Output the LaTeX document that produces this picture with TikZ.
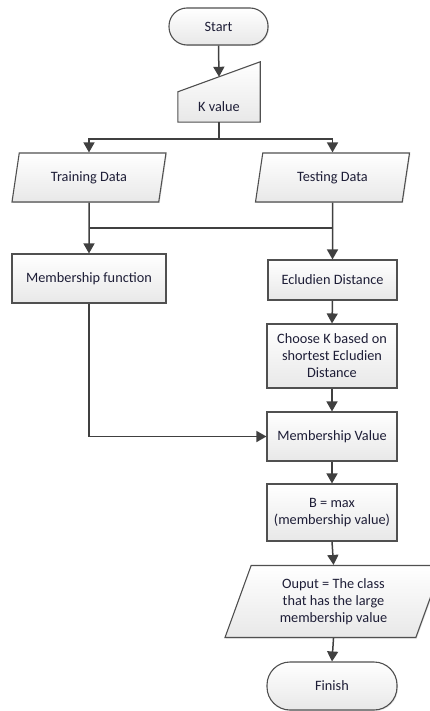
\documentclass[tikz,border=0pt]{standalone}
\usepackage{fontspec}
\setmainfont{Carlito}
\usetikzlibrary{shapes.geometric,arrows.meta,calc,backgrounds,shadows}

\definecolor{boxline}{RGB}{80,80,80}
\definecolor{boxfill}{RGB}{232,232,232}
\definecolor{flowline}{RGB}{64,64,64}
\definecolor{txt}{RGB}{30,30,55}
\newcommand\boxfont{\fontsize{14.3}{17}\selectfont}

\begin{document}
\begin{tikzpicture}[x=1pt,y=-1pt,
  shapestyle/.style={draw=boxline,line width=1.1pt,top color=white,bottom color=boxfill},
  box/.style={shapestyle,rectangle,align=center,text=txt,font=\boxfont,inner sep=2pt,
    drop shadow={shadow xshift=1pt,shadow yshift=-1pt,opacity=.2}},
  termbox/.style={box,rounded corners=18pt},
  iobox/.style={box,trapezium,trapezium stretches body=true},
  flow/.style={draw=flowline,line width=1.5pt},
  arrow/.style={flow,-{Triangle[length=10pt,width=11pt]}}]

\clip (0,0) rectangle (430,711);

\node[termbox,minimum width=99pt,minimum height=37pt] (start) at (218.5,26.5) {Start};

\node[font=\boxfont,text=txt,minimum width=82pt,minimum height=30pt] (kval) at (219,107) {K value};
\begin{scope}[on background layer]
\draw[shapestyle] (kval.south west) -- (kval.north west) -- ([yshift=30pt]kval.north east) -- (kval.south east) -- cycle;
\end{scope}
\coordinate (kin) at ([yshift=15pt]kval.north);

\node[iobox,trapezium left angle=66,trapezium right angle=114,minimum width=154pt,minimum height=49pt] (train) at (89,177.5) {Training Data};
\node[iobox,trapezium left angle=66,trapezium right angle=114,minimum width=154pt,minimum height=49pt] (test) at (332.5,177.5) {Testing Data};

\node[box,minimum width=154pt,minimum height=49pt] (memfn) at (89,278.5) {Membership function};
\node[box,minimum width=129pt,minimum height=40pt] (ecl) at (332.5,280) {Ecludien Distance};
\node[box,minimum width=130pt,minimum height=64pt] (choose) at (332,356) {Choose K based on\\shortest Ecludien\\Distance};
\node[box,minimum width=130pt,minimum height=49pt] (mval) at (332,436.5) {Membership Value};
\node[box,minimum width=130pt,minimum height=57pt] (bmax) at (332,512.5) {B = max\\(membership value)};
\node[iobox,trapezium left angle=62.5,trapezium right angle=117.5,minimum width=217pt,minimum height=72pt] (outp) at (333.5,601.5) {Ouput = The class\\that has the large\\membership value};
\node[termbox,minimum width=130pt,minimum height=48pt,rounded corners=23pt] (finish) at (332,686) {Finish};

\draw[arrow] (start.south) -- (kin);
\draw[arrow] (kval.south) -- ++(0,17) -| (train.north);
\draw[arrow] (kval.south) -- ++(0,17) -| (test.north);

\coordinate (mid) at ($(train.south)!.5!(memfn.north)$);
\draw[arrow] (train.south) -- (memfn.north);
\draw[arrow] (test.south) -- (ecl.north);
\draw[flow] (memfn.north |- mid) -- (ecl.north |- mid);

\draw[arrow] (ecl.south) -- (choose.north);
\draw[arrow] (choose.south) -- (mval.north);
\draw[arrow] (memfn.south) |- (mval.west);
\draw[arrow] (mval.south) -- (bmax.north);
\draw[arrow] (bmax.south) -- (outp.north);
\draw[arrow] (outp.south) -- (finish.north);

\end{tikzpicture}
\end{document}
